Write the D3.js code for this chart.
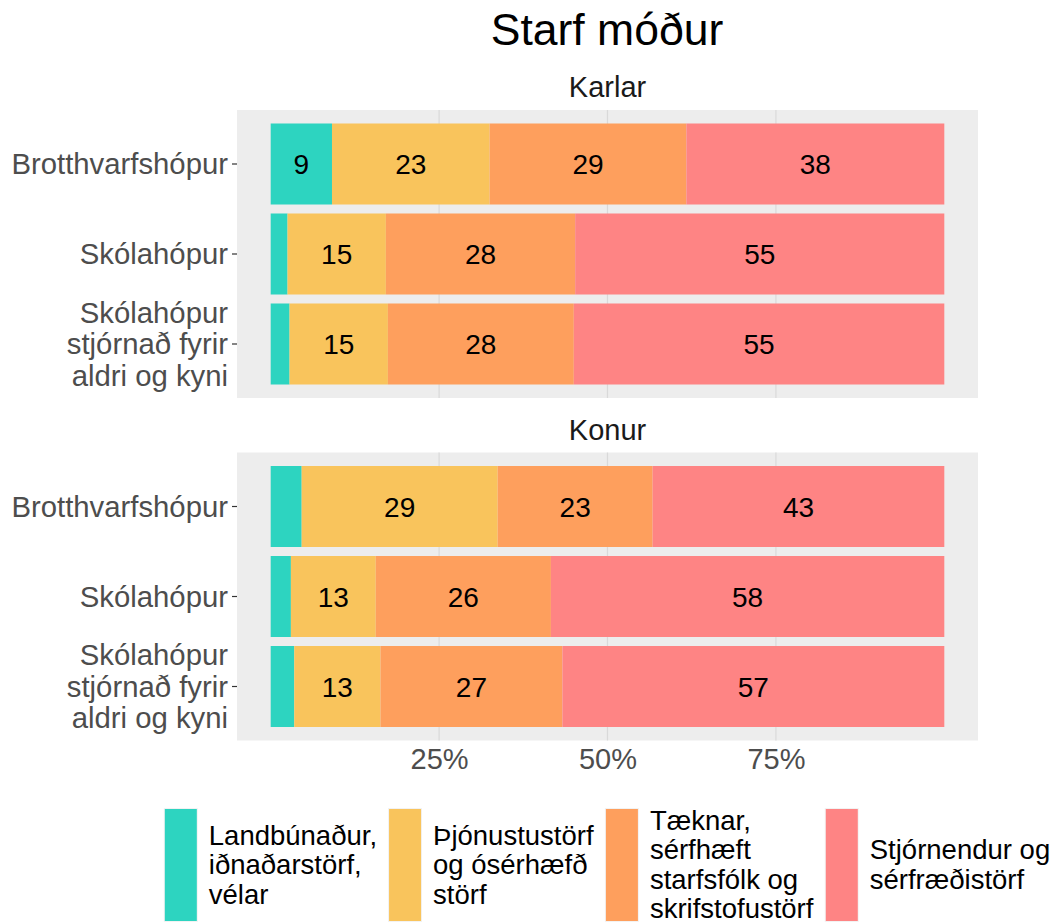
<!DOCTYPE html>
<html>
<head>
<meta charset="utf-8">
<script src="https://cdn.jsdelivr.net/npm/d3@7"></script>
<style>
body { margin: 0; background: #fff; }
text { font-family: "Liberation Sans", Arial, sans-serif; }
</style>
</head>
<body>
<div id="chart"></div>
<script>
//data
var title = "Starf móður";
var groups = ["Karlar", "Konur"];
var categories = ["Brotthvarfshópur", "Skólahópur", "Skólahópur\nstjórnað fyrir\naldri og kyni"];
var occupations = [
  "Landbúnaður,\niðnaðarstörf,\nvélar",
  "Þjónustustörf\nog ósérhæfð\nstörf",
  "Tæknar,\nsérfhæft\nstarfsfólk og\nskrifstofustörf",
  "Stjórnendur og\nsérfræðistörf"
];
var colors = ["#2DD4C0", "#F9C45C", "#FE9F5D", "#FE8484"];
// percent per category (rows) and occupation (columns)
var karlarValues = [
  [9.1, 23.4, 29.2, 38.3],
  [2.5, 14.6, 28.1, 54.8],
  [2.8, 14.6, 27.6, 55.0]
];
var konurValues = [
  [4.6, 29.1, 23.0, 43.3],
  [3.0, 12.6, 26.0, 58.4],
  [3.5, 12.8, 27.0, 56.7]
];
var xTicks = [25, 50, 75];

//dimensions
var width = 1057, height = 924;
var panelLeft = 237, panelRight = 978, panelH = 288;
var panelTops = [110, 452.5];

var svg = d3.select("#chart")
  .append("svg")
  .attr("width", width)
  .attr("height", height);

//scales
var x = d3.scaleLinear().domain([-5, 105]).range([panelLeft, panelRight]);
var color = d3.scaleOrdinal().domain(d3.range(occupations.length)).range(colors);

//title
svg.append("text")
  .attr("x", 607).attr("y", 45)
  .attr("text-anchor", "middle")
  .style("font-size", "44.5px")
  .style("fill", "#000")
  .text(title);

var allValues = [karlarValues, konurValues];

groups.forEach(function(g, gi) {
  var top = panelTops[gi];
  var y = d3.scaleBand()
    .domain(categories)
    .range([top, top + panelH])
    .paddingInner(0.1)
    .paddingOuter(0.15);

  //strip label
  svg.append("text")
    .attr("x", (panelLeft + panelRight) / 2)
    .attr("y", top - 13)
    .attr("text-anchor", "middle")
    .style("font-size", "29px")
    .style("fill", "#1A1A1A")
    .text(g);

  //panel background
  svg.append("rect")
    .attr("x", panelLeft).attr("y", top)
    .attr("width", panelRight - panelLeft).attr("height", panelH)
    .style("fill", "#EDEDED");

  //gridlines
  svg.append("g").selectAll("line")
    .data(xTicks).enter().append("line")
    .attr("x1", function(d) { return x(d); })
    .attr("x2", function(d) { return x(d); })
    .attr("y1", top).attr("y2", top + panelH)
    .style("stroke", "#D9D9D9")
    .style("stroke-width", 1.2);

  //stacked bars
  var rows = allValues[gi].map(function(v, i) {
    var o = { cat: categories[i] };
    v.forEach(function(val, k) { o[k] = val; });
    return o;
  });
  var series = d3.stack().keys(d3.range(occupations.length))(rows);

  var layers = svg.append("g").selectAll("g")
    .data(series).enter().append("g")
    .attr("fill", function(d) { return color(d.key); });

  layers.selectAll("rect")
    .data(function(d) { return d; })
    .enter().append("rect")
    .attr("x", function(d) { return x(d[0]); })
    .attr("y", function(d) { return y(d.data.cat); })
    .attr("width", function(d) { return x(d[1]) - x(d[0]); })
    .attr("height", y.bandwidth());

  layers.selectAll("text")
    .data(function(d) { return d.filter(function(s) { return s[1] - s[0] >= 5; }); })
    .enter().append("text")
    .attr("x", function(d) { return x((d[0] + d[1]) / 2); })
    .attr("y", function(d) { return y(d.data.cat) + y.bandwidth() / 2; })
    .attr("dy", "0.36em")
    .attr("text-anchor", "middle")
    .style("font-size", "28px")
    .style("fill", "#000")
    .text(function(d) { return d3.format(".0f")(d[1] - d[0]); });

  //y axis
  var yAxis = svg.append("g")
    .attr("transform", "translate(" + panelLeft + ",0)")
    .call(d3.axisLeft(y).tickSize(5).tickPadding(4));
  yAxis.select(".domain").remove();
  yAxis.selectAll(".tick line").attr("stroke", "#333333").attr("stroke-width", 1.2);
  yAxis.selectAll(".tick text")
    .attr("dy", null)
    .style("font-size", "29.3px")
    .style("fill", "#4D4D4D")
    .style("font-family", "'Liberation Sans', Arial, sans-serif")
    .each(function(d) {
      var t = d3.select(this), lines = d.split("\n"), lh = 31.5;
      t.text(null);
      lines.forEach(function(l, i) {
        t.append("tspan")
          .attr("x", -9)
          .attr("dy", i === 0 ? (10 - (lines.length - 1) * lh / 2) + "px" : lh + "px")
          .text(l);
      });
    });
});

//x axis labels (bottom panel)
var xAxis = svg.append("g")
  .attr("transform", "translate(0," + (panelTops[1] + panelH) + ")")
  .call(d3.axisBottom(x).tickValues(xTicks).tickSize(0).tickPadding(8)
    .tickFormat(function(d) { return d + "%"; }));
xAxis.select(".domain").remove();
xAxis.selectAll(".tick text")
  .style("font-size", "29px")
  .style("fill", "#4D4D4D")
  .style("font-family", "'Liberation Sans', Arial, sans-serif");

//legend
var legend = svg.append("g");
var keyTop = 809, keyH = 112, keyW = 32, lineH = 29.5;
var cx = 0;
occupations.forEach(function(label, i) {
  var item = legend.append("g").attr("transform", "translate(" + cx + ",0)");
  item.append("rect")
    .attr("x", -1).attr("y", keyTop - 1)
    .attr("width", keyW + 2).attr("height", keyH + 2)
    .style("fill", "#F2F2F2");
  item.append("rect")
    .attr("x", 0).attr("y", keyTop)
    .attr("width", keyW).attr("height", keyH)
    .style("fill", color(i));
  var lines = label.split("\n");
  var txt = item.append("text")
    .style("font-size", "27.5px")
    .style("fill", "#000");
  lines.forEach(function(l, j) {
    txt.append("tspan")
      .attr("x", keyW + 12)
      .attr("y", keyTop + keyH / 2 - (lines.length - 1) * lineH / 2 + j * lineH + 9)
      .text(l);
  });
  cx += keyW + 12 + txt.node().getBBox().width + 12;
});
var lw = legend.node().getBBox().width;
legend.attr("transform", "translate(" + (608 - lw / 2) + ",0)");
</script>
</body>
</html>
